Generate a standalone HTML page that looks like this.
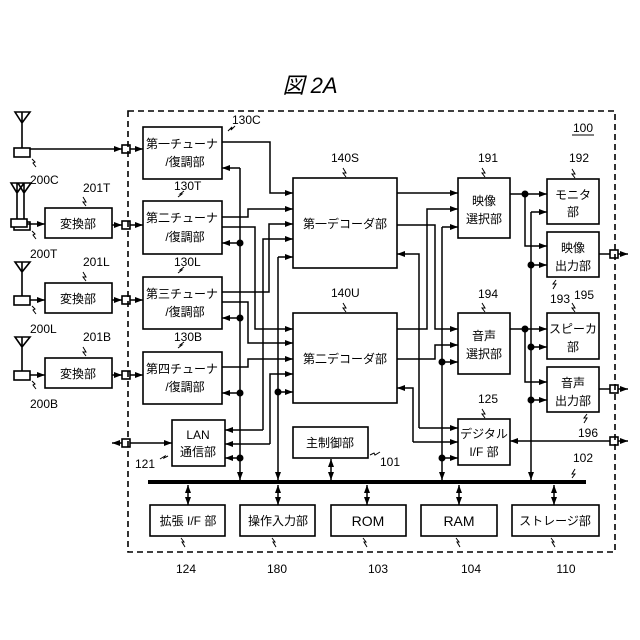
<!DOCTYPE html>
<html><head><meta charset="utf-8"><style>
html,body{margin:0;padding:0;background:#fff;}
svg{display:block;}
text{font-family:"Liberation Sans","Noto Sans CJK JP",sans-serif;fill:#000;}
.j{font-size:12px;}
.n{font-size:12px;}
</style></head><body>
<svg width="640" height="640" viewBox="0 0 640 640" xmlns="http://www.w3.org/2000/svg">
<defs>
<marker id="a" viewBox="0 0 8 6" refX="8" refY="3" markerWidth="8" markerHeight="6" orient="auto-start-reverse" markerUnits="userSpaceOnUse"><path d="M0,0L8,3L0,6z"/></marker>
</defs>
<text x="310" y="93" text-anchor="middle" font-size="22" font-style="italic">図 2A</text>
<rect x="128" y="111" width="487" height="441" fill="none" stroke="#000" stroke-width="1.6" stroke-dasharray="6 4"/>
<text x="583" y="132" text-anchor="middle" class="n">100</text>
<line x1="572" y1="135" x2="594" y2="135" stroke="#000"/>

<g fill="none" stroke="#000" stroke-width="1.6">
<!-- antennas -->
<path d="M15,112H30L22,123z M22,112V148"/><rect x="14" y="148" width="16" height="9"/>
<path d="M11,183H24L17,193z M17,183V220 M18,183H31L24,193z M24,183V220"/><rect x="14" y="222" width="16" height="8"/><rect x="11" y="219" width="16" height="8" fill="#fff"/>
<path d="M15,262H30L22,272z M22,262V296"/><rect x="14" y="296" width="16" height="9"/>
<path d="M15,337H30L22,347z M22,337V371"/><rect x="14" y="371" width="16" height="9"/>
<!-- boxes -->
<rect x="143" y="127" width="79" height="52"/>
<rect x="143" y="201" width="79" height="53"/>
<rect x="143" y="277" width="79" height="52"/>
<rect x="143" y="352" width="79" height="52"/>
<rect x="45" y="208" width="67" height="30"/>
<rect x="45" y="283" width="67" height="30"/>
<rect x="45" y="358" width="67" height="30"/>
<rect x="293" y="178" width="104" height="90"/>
<rect x="293" y="313" width="104" height="90"/>
<rect x="293" y="427" width="75" height="31"/>
<rect x="172" y="420" width="53" height="46"/>
<rect x="458" y="178" width="52" height="60"/>
<rect x="458" y="313" width="52" height="61"/>
<rect x="458" y="419" width="52" height="46"/>
<rect x="547" y="179" width="52" height="45"/>
<rect x="547" y="232" width="52" height="45"/>
<rect x="547" y="313" width="52" height="46"/>
<rect x="547" y="367" width="52" height="45"/>
<rect x="150" y="505" width="75" height="31"/>
<rect x="240" y="505" width="75" height="31"/>
<rect x="331" y="505" width="75" height="31"/>
<rect x="421" y="505" width="76" height="31"/>
<rect x="512" y="505" width="87" height="31"/>
<!-- ports -->
<rect x="122" y="145" width="8" height="8"/>
<rect x="122" y="221" width="8" height="8"/>
<rect x="122" y="296" width="8" height="8"/>
<rect x="122" y="371" width="8" height="8"/>
<rect x="122" y="439" width="8" height="8"/>
<rect x="610" y="250" width="8" height="8"/>
<rect x="610" y="385" width="8" height="8"/>
<rect x="610" y="437" width="8" height="8"/>
</g>

<g fill="none" stroke="#000" stroke-width="1.5" marker-end="url(#a)">
<path d="M30,149H122"/><path d="M130,149H143"/>
<path d="M27,224H45"/><path d="M112,225H122"/><path d="M130,225H143"/>
<path d="M30,300H45"/><path d="M112,300H122"/><path d="M130,300H143"/>
<path d="M30,375H45"/><path d="M112,375H122"/><path d="M130,375H143"/>
<path d="M122,443H112"/><path d="M130,443H172"/>
<path d="M222,142H270V193H293"/>
<path d="M222,217H248V209H293"/>
<path d="M222,227H255V329H293"/>
<path d="M222,292H269V224H293"/>
<path d="M222,302H248V343H293"/>
<path d="M222,367H248V359H293"/>
<path d="M263,430V239H293"/><path d="M263,430H225"/>
<path d="M270,444V374H293"/><path d="M270,444H225"/>
<path d="M278,257H293"/><path d="M278,257V480"/><path d="M278,392H293"/>
<path d="M240,168H222"/><path d="M240,168V480"/>
<path d="M240,243H222"/><path d="M240,318H222"/><path d="M240,393H222"/><path d="M240,458H225"/>
<path d="M397,193H458"/>
<path d="M397,225H435V329H458"/>
<path d="M397,329H427V209H458"/>
<path d="M397,359H435V345H458"/>
<path d="M442,227H458"/><path d="M442,227V480"/><path d="M442,362H458"/><path d="M442,458H458"/>
<path d="M419,428H458"/><path d="M419,428V254H397"/>
<path d="M413,442H458"/><path d="M413,442V388H397"/>
<path d="M510,194H547"/><path d="M525,194V246H547"/>
<path d="M531,212H547"/><path d="M531,212V480"/>
<path d="M531,265H547"/><path d="M531,347H547"/><path d="M531,400H547"/>
<path d="M510,329H547"/><path d="M525,329V382H547"/>
<path d="M599,254H610" marker-end="none"/><path d="M618,254H628"/>
<path d="M599,389H610" marker-end="none"/><path d="M618,389H628"/>
<path d="M610,441H510"/><path d="M618,441H628"/>
</g>
<g fill="none" stroke="#000" stroke-width="1.5" marker-start="url(#a)" marker-end="url(#a)">
<path d="M331,459V480"/>
<path d="M188,485V505"/><path d="M278,485V505"/><path d="M367,485V505"/><path d="M459,485V505"/><path d="M554,485V505"/>
</g>
<rect x="148" y="480" width="438" height="4" fill="#000"/>
<g fill="#000">
<circle cx="240" cy="243" r="3.5"/><circle cx="240" cy="318" r="3.5"/><circle cx="240" cy="393" r="3.5"/><circle cx="240" cy="458" r="3.5"/>
<circle cx="278" cy="392" r="3.5"/>
<circle cx="442" cy="362" r="3.5"/><circle cx="442" cy="458" r="3.5"/>
<circle cx="525" cy="194" r="3.5"/><circle cx="525" cy="329" r="3.5"/>
<circle cx="531" cy="265" r="3.5"/><circle cx="531" cy="347" r="3.5"/><circle cx="531" cy="400" r="3.5"/>
</g>

<!-- zigzags -->
<g fill="none" stroke="#000" stroke-width="1">
<path d="M228,131l4,-4l-1,3l4,-4"/>
<path d="M178,197l4,-3l-2,0l4,-3"/>
<path d="M178,273l4,-3l-2,0l4,-3"/>
<path d="M178,348l4,-3l-2,0l4,-3"/>
<path d="M32,159l3,3l-2,1l3,4"/>
<path d="M32,231l3,3l-2,1l3,4"/>
<path d="M32,306l3,3l-2,1l3,4"/>
<path d="M32,381l3,3l-2,1l3,4"/>
<path d="M86,206l-3,-4l3,0l-3,-5"/>
<path d="M86,281l-3,-4l3,0l-3,-5"/>
<path d="M86,356l-3,-4l3,0l-3,-5"/>
<path d="M346,177l-3,-4l3,0l-3,-5"/>
<path d="M346,312l-3,-4l3,0l-3,-5"/>
<path d="M485,177l-3,-4l3,0l-3,-5"/>
<path d="M485,312l-3,-4l3,0l-3,-5"/>
<path d="M485,418l-3,-4l3,0l-3,-5"/>
<path d="M575,178l-3,-4l3,0l-3,-5"/>
<path d="M575,312l-3,-4l3,0l-3,-5"/>
<path d="M556,280l-3,4l3,0l-3,5"/>
<path d="M587,414l-3,4l3,0l-3,5"/>
<path d="M572,478l3,-4l-3,0l3,-5"/>
<path d="M370,455l4,-2l1,2l5,-3"/>
<path d="M168,456l-4,2l1,-2l-5,3"/>
<path d="M181,538l3,4l-2,0l3,5"/>
<path d="M272,538l3,4l-2,0l3,5"/>
<path d="M363,538l3,4l-2,0l3,5"/>
<path d="M456,538l3,4l-2,0l3,5"/>
<path d="M551,538l3,4l-2,0l3,5"/>
</g>

<g class="n">
<text x="232" y="124">130C</text>
<text x="174" y="190">130T</text>
<text x="174" y="266">130L</text>
<text x="174" y="341">130B</text>
<text x="30" y="184">200C</text>
<text x="30" y="258">200T</text>
<text x="30" y="333">200L</text>
<text x="30" y="408">200B</text>
<text x="83" y="192">201T</text>
<text x="83" y="266">201L</text>
<text x="83" y="341">201B</text>
<text x="331" y="162">140S</text>
<text x="331" y="297">140U</text>
<text x="488" y="162" text-anchor="middle">191</text>
<text x="579" y="162" text-anchor="middle">192</text>
<text x="488" y="298" text-anchor="middle">194</text>
<text x="488" y="403" text-anchor="middle">125</text>
<text x="560" y="303" text-anchor="middle">193</text>
<text x="584" y="299" text-anchor="middle">195</text>
<text x="588" y="437" text-anchor="middle">196</text>
<text x="583" y="462" text-anchor="middle">102</text>
<text x="390" y="466" text-anchor="middle">101</text>
<text x="145" y="468" text-anchor="middle">121</text>
<text x="186" y="573" text-anchor="middle">124</text>
<text x="277" y="573" text-anchor="middle">180</text>
<text x="378" y="573" text-anchor="middle">103</text>
<text x="471" y="573" text-anchor="middle">104</text>
<text x="566" y="573" text-anchor="middle">110</text>
</g>
<g class="j" text-anchor="middle">
<text x="182" y="148">第一チューナ</text><text x="185" y="166">/復調部</text>
<text x="182" y="222">第二チューナ</text><text x="185" y="241">/復調部</text>
<text x="182" y="298">第三チューナ</text><text x="185" y="316">/復調部</text>
<text x="182" y="373">第四チューナ</text><text x="185" y="391">/復調部</text>
<text x="78" y="228">変換部</text>
<text x="78" y="303">変換部</text>
<text x="78" y="378">変換部</text>
<text x="345" y="228">第一デコーダ部</text>
<text x="345" y="363">第二デコーダ部</text>
<text x="330" y="447">主制御部</text>
<text x="198" y="439">LAN</text><text x="198" y="456">通信部</text>
<text x="484" y="205">映像</text><text x="484" y="223">選択部</text>
<text x="484" y="340">音声</text><text x="484" y="358">選択部</text>
<text x="484" y="438">デジタル</text><text x="484" y="456">I/F 部</text>
<text x="573" y="199">モニタ</text><text x="573" y="216">部</text>
<text x="573" y="252">映像</text><text x="573" y="270">出力部</text>
<text x="573" y="333">スピーカ</text><text x="573" y="351">部</text>
<text x="573" y="387">音声</text><text x="573" y="405">出力部</text>
<text x="188" y="525">拡張 I/F 部</text>
<text x="278" y="525">操作入力部</text>
<text x="368" y="526" font-size="14">ROM</text>
<text x="459" y="526" font-size="14">RAM</text>
<text x="555" y="525">ストレージ部</text>
</g>
</svg>
</body></html>
